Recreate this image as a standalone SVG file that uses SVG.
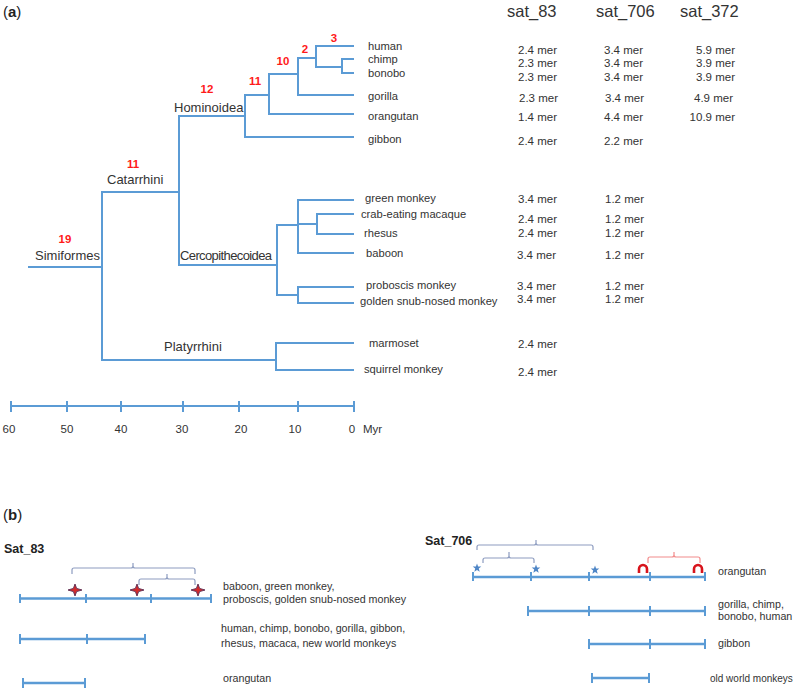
<svg xmlns="http://www.w3.org/2000/svg" width="800" height="691" viewBox="0 0 800 691">
<style>
text{font-family:"Liberation Sans",Arial,sans-serif;fill:#333}
.t{stroke:#5b9bd5;stroke-width:2;fill:none;stroke-linecap:square}
.ax{stroke:#5b9bd5;stroke-width:2;fill:none}
.tl{stroke:#5b9bd5;stroke-width:2.5;fill:none}
.tk{stroke:#5b9bd5;stroke-width:2;fill:none}
.br{stroke:#8d9cc0;stroke-width:1.2;fill:none;stroke-linejoin:round}
.brr{stroke:#f28b8b;stroke-width:1.2;fill:none;stroke-linejoin:round}
.sp{font-size:11.2px}
.v{font-size:11.5px}
.cl{font-size:13px}
.n{font-size:11.5px;font-weight:bold;fill:#ff1a1a;text-anchor:middle}
.h{font-size:16.5px}
.ay{font-size:11.5px;text-anchor:middle}
.lb{font-size:10.7px}
.ttl{font-size:12.5px;font-weight:bold;fill:#222}
.pan{font-size:15px;fill:#222}
</style>
<defs>
<path id="rstar" d="M0,-6 L1.6,-1.6 L7,0 L1.6,1.6 L0,6 L-1.6,1.6 L-7,0 L-1.6,-1.6 Z" fill="#d42a2a" stroke="#5a2a50" stroke-width="0.9"/>
<path id="bstar" d="M0,-4.5 L1.1,-1.5 L4.3,-1.4 L1.8,0.6 L2.7,3.7 L0,1.9 L-2.7,3.7 L-1.8,0.6 L-4.3,-1.4 L-1.1,-1.5 Z" fill="#4f86c6"/>
<path id="shoe" d="M-4,4 L-4,0 A4,4 0 0 1 4,0 L4,4" fill="none" stroke="#d8141c" stroke-width="2.6"/>
</defs>

<text class="pan" x="3" y="17">(<tspan font-weight="bold">a</tspan>)</text>

<g id="connectors">
<path class="t" d="M29,267 H102 M102,192 V360"/>
<path class="t" d="M102,192 H179 M179,116 V265"/>
<path class="t" d="M179,116 H245 M245,95 V137 M245,137 H353"/>
<path class="t" d="M245,95 H269 M269,74 V114 M269,114 H353"/>
<path class="t" d="M269,74 H298 M298,58 V95 M298,95 H353"/>
<path class="t" d="M298,58 H316 M316,46 V67 M316,46 H353"/>
<path class="t" d="M316,67 H342 M342,59 V73 M342,59 H353 M342,73 H353"/>
<path class="t" d="M179,265 H277 M277,225 V295"/>
<path class="t" d="M277,225 H298 M298,200 V253 M298,200 H353 M298,253 H353"/>
<path class="t" d="M298,224 H317 M317,214 V234 M317,214 H353 M317,234 H353"/>
<path class="t" d="M277,295 H298 M298,287 V303 M298,287 H353 M298,303 H353"/>
<path class="t" d="M102,360 H276 M276,343 V370 M276,343 H353 M276,370 H353"/>
</g>

<g id="clade-labels">
<g id="simiformes"><text class="n" x="65" y="243">19</text><text class="cl" x="35" y="260">Simiformes</text></g>
<g id="catarrhini"><text class="n" x="133" y="168">11</text><text class="cl" x="107" y="184">Catarrhini</text></g>
<g id="hominoidea"><text class="n" x="207" y="93">12</text><text class="cl" x="174" y="112">Hominoidea</text></g>
<g id="node11"><text class="n" x="255" y="85">11</text></g>
<g id="node10"><text class="n" x="283" y="65">10</text></g>
<g id="node2"><text class="n" x="305" y="53">2</text></g>
<g id="node3"><text class="n" x="334" y="42">3</text></g>
<g id="cercopithecoidea"><text class="cl" x="180" y="260" font-size="12.2px" textLength="92">Cercopithecoidea</text></g>
<g id="platyrrhini"><text class="cl" x="164" y="351">Platyrrhini</text></g>
</g>

<g id="headers">
<text class="h" x="507" y="17">sat_83</text>
<text class="h" x="596" y="17">sat_706</text>
<text class="h" x="680" y="17">sat_372</text>
</g>

<g id="human"><text class="sp" x="368" y="50">human</text><text class="v" x="518" y="54">2.4 mer</text><text class="v" x="604" y="54">3.4 mer</text><text class="v" x="735" y="54" text-anchor="end">5.9 mer</text></g>
<g id="chimp"><text class="sp" x="368" y="63">chimp</text><text class="v" x="518" y="67">2.3 mer</text><text class="v" x="604" y="67">3.4 mer</text><text class="v" x="735" y="67" text-anchor="end">3.9 mer</text></g>
<g id="bonobo"><text class="sp" x="368" y="77">bonobo</text><text class="v" x="518" y="81">2.3 mer</text><text class="v" x="604" y="81">3.4 mer</text><text class="v" x="735" y="81" text-anchor="end">3.9 mer</text></g>
<g id="gorilla"><text class="sp" x="368" y="100">gorilla</text><text class="v" x="519" y="102">2.3 mer</text><text class="v" x="605" y="102">3.4 mer</text><text class="v" x="733" y="102" text-anchor="end">4.9 mer</text></g>
<g id="orangutan"><text class="sp" x="368" y="120">orangutan</text><text class="v" x="518" y="121">1.4 mer</text><text class="v" x="604" y="121">4.4 mer</text><text class="v" x="735" y="121" text-anchor="end">10.9 mer</text></g>
<g id="gibbon"><text class="sp" x="368" y="143">gibbon</text><text class="v" x="518" y="145">2.4 mer</text><text class="v" x="604" y="145">2.2 mer</text></g>
<g id="green-monkey"><text class="sp" x="365" y="202">green monkey</text><text class="v" x="518" y="203">3.4 mer</text><text class="v" x="605" y="203">1.2 mer</text></g>
<g id="crab-eating-macaque"><text class="sp" x="361" y="218">crab-eating macaque</text><text class="v" x="518" y="223">2.4 mer</text><text class="v" x="605" y="223">1.2 mer</text></g>
<g id="rhesus"><text class="sp" x="364" y="237">rhesus</text><text class="v" x="518" y="237">2.4 mer</text><text class="v" x="605" y="237">1.2 mer</text></g>
<g id="baboon"><text class="sp" x="366" y="257">baboon</text><text class="v" x="517" y="259">3.4 mer</text><text class="v" x="605" y="259">1.2 mer</text></g>
<g id="proboscis-monkey"><text class="sp" x="366" y="289">proboscis monkey</text><text class="v" x="517" y="290">3.4 mer</text><text class="v" x="605" y="290">1.2 mer</text></g>
<g id="golden-snub-nosed-monkey"><text class="sp" x="360" y="305">golden snub-nosed monkey</text><text class="v" x="517" y="303">3.4 mer</text><text class="v" x="605" y="303">1.2 mer</text></g>
<g id="marmoset"><text class="sp" x="369" y="347">marmoset</text><text class="v" x="518" y="348">2.4 mer</text></g>
<g id="squirrel-monkey"><text class="sp" x="364" y="373">squirrel monkey</text><text class="v" x="518" y="376">2.4 mer</text></g>

<g id="time-axis">
<path class="ax" d="M11,406 H354 M11,401 V412 M67,401 V412 M121,401 V412 M183,401 V412 M239,401 V412 M298,401 V412 M354,401 V412"/>
<text class="ay" x="9" y="433">60</text>
<text class="ay" x="67" y="433">50</text>
<text class="ay" x="121" y="433">40</text>
<text class="ay" x="182" y="433">30</text>
<text class="ay" x="241" y="433">20</text>
<text class="ay" x="295" y="433">10</text>
<text class="ay" x="352" y="433">0</text>
<text x="363" y="433" font-size="11.5px">Myr</text>
</g>

<text class="pan" x="3" y="520">(<tspan font-weight="bold">b</tspan>)</text>

<g id="sat83">
<text class="ttl" x="4" y="553">Sat_83</text>
<path class="br" d="M72,574 V570 Q72,568 74,568 H131 Q133,568 133,566 V563 M133,566 Q133,568 135,568 H193 Q195,568 195,570 V574"/>
<path class="br" d="M139,585 V581 Q139,579 141,579 H165 Q167,579 167,577 V574 M167,577 Q167,579 169,579 H193 Q195,579 195,581 V585"/>
<g id="sat83-row1">
<path class="tl" d="M20,598.5 H211"/>
<path class="tk" d="M20,594 V603 M86,594 V603 M151,594 V603 M211,594 V603"/>
<use href="#rstar" x="75" y="590"/>
<use href="#rstar" x="137" y="590"/>
<use href="#rstar" x="198" y="590"/>
<text class="lb" x="223" y="590">baboon, green monkey,</text>
<text class="lb" x="223" y="603">proboscis, golden snub-nosed monkey</text>
</g>
<g id="sat83-row2">
<path class="tl" d="M20,639 H145"/>
<path class="tk" d="M20,634 V644 M87,634 V644 M145,634 V644"/>
<text class="lb" x="221" y="632">human, chimp, bonobo, gorilla, gibbon,</text>
<text class="lb" x="221" y="647">rhesus, macaca, new world monkeys</text>
</g>
<g id="sat83-row3">
<path class="tl" d="M23,683 H85"/>
<path class="tk" d="M23,678 V688 M85,678 V688"/>
<text class="lb" x="223" y="682">orangutan</text>
</g>
</g>

<g id="sat706">
<text class="ttl" x="425" y="545">Sat_706</text>
<path class="br" d="M477,550 V547 Q477,545 479,545 H534 Q536,545 536,543 V540 M536,543 Q536,545 538,545 H591 Q593,545 593,547 V550"/>
<path class="br" d="M483,563 V560 Q483,558 485,558 H507 Q509,558 509,556 V552 M509,556 Q509,558 511,558 H532 Q534,558 534,560 V563"/>
<path class="brr" d="M648,563 V559 Q648,557 650,557 H672 Q674,557 674,555 V552 M674,555 Q674,557 676,557 H698 Q700,557 700,559 V563"/>
<g id="sat706-row1">
<path class="tl" d="M473,577 H705"/>
<path class="tk" d="M473,572 V581 M531,572 V581 M589,572 V581 M650,572 V581 M705,572 V581"/>
<use href="#bstar" x="477" y="568"/>
<use href="#bstar" x="536" y="569"/>
<use href="#bstar" x="595" y="570"/>
<use href="#shoe" x="643" y="569"/>
<use href="#shoe" x="698" y="569"/>
<text class="lb" x="718" y="575">orangutan</text>
</g>
<g id="sat706-row2">
<path class="tl" d="M528,611 H705"/>
<path class="tk" d="M528,606 V616 M589,606 V616 M650,606 V616 M705,606 V616"/>
<text class="lb" x="718" y="608">gorilla, chimp,</text>
<text class="lb" x="718" y="620">bonobo, human</text>
</g>
<g id="sat706-row3">
<path class="tl" d="M589,644 H705"/>
<path class="tk" d="M589,639 V649 M650,639 V649 M705,639 V649"/>
<text class="lb" x="718" y="647">gibbon</text>
</g>
<g id="sat706-row4">
<path class="tl" d="M592,678 H649"/>
<path class="tk" d="M592,673 V683 M649,673 V683"/>
<text x="710" y="682" font-size="10px">old world monkeys</text>
</g>
</g>
</svg>
